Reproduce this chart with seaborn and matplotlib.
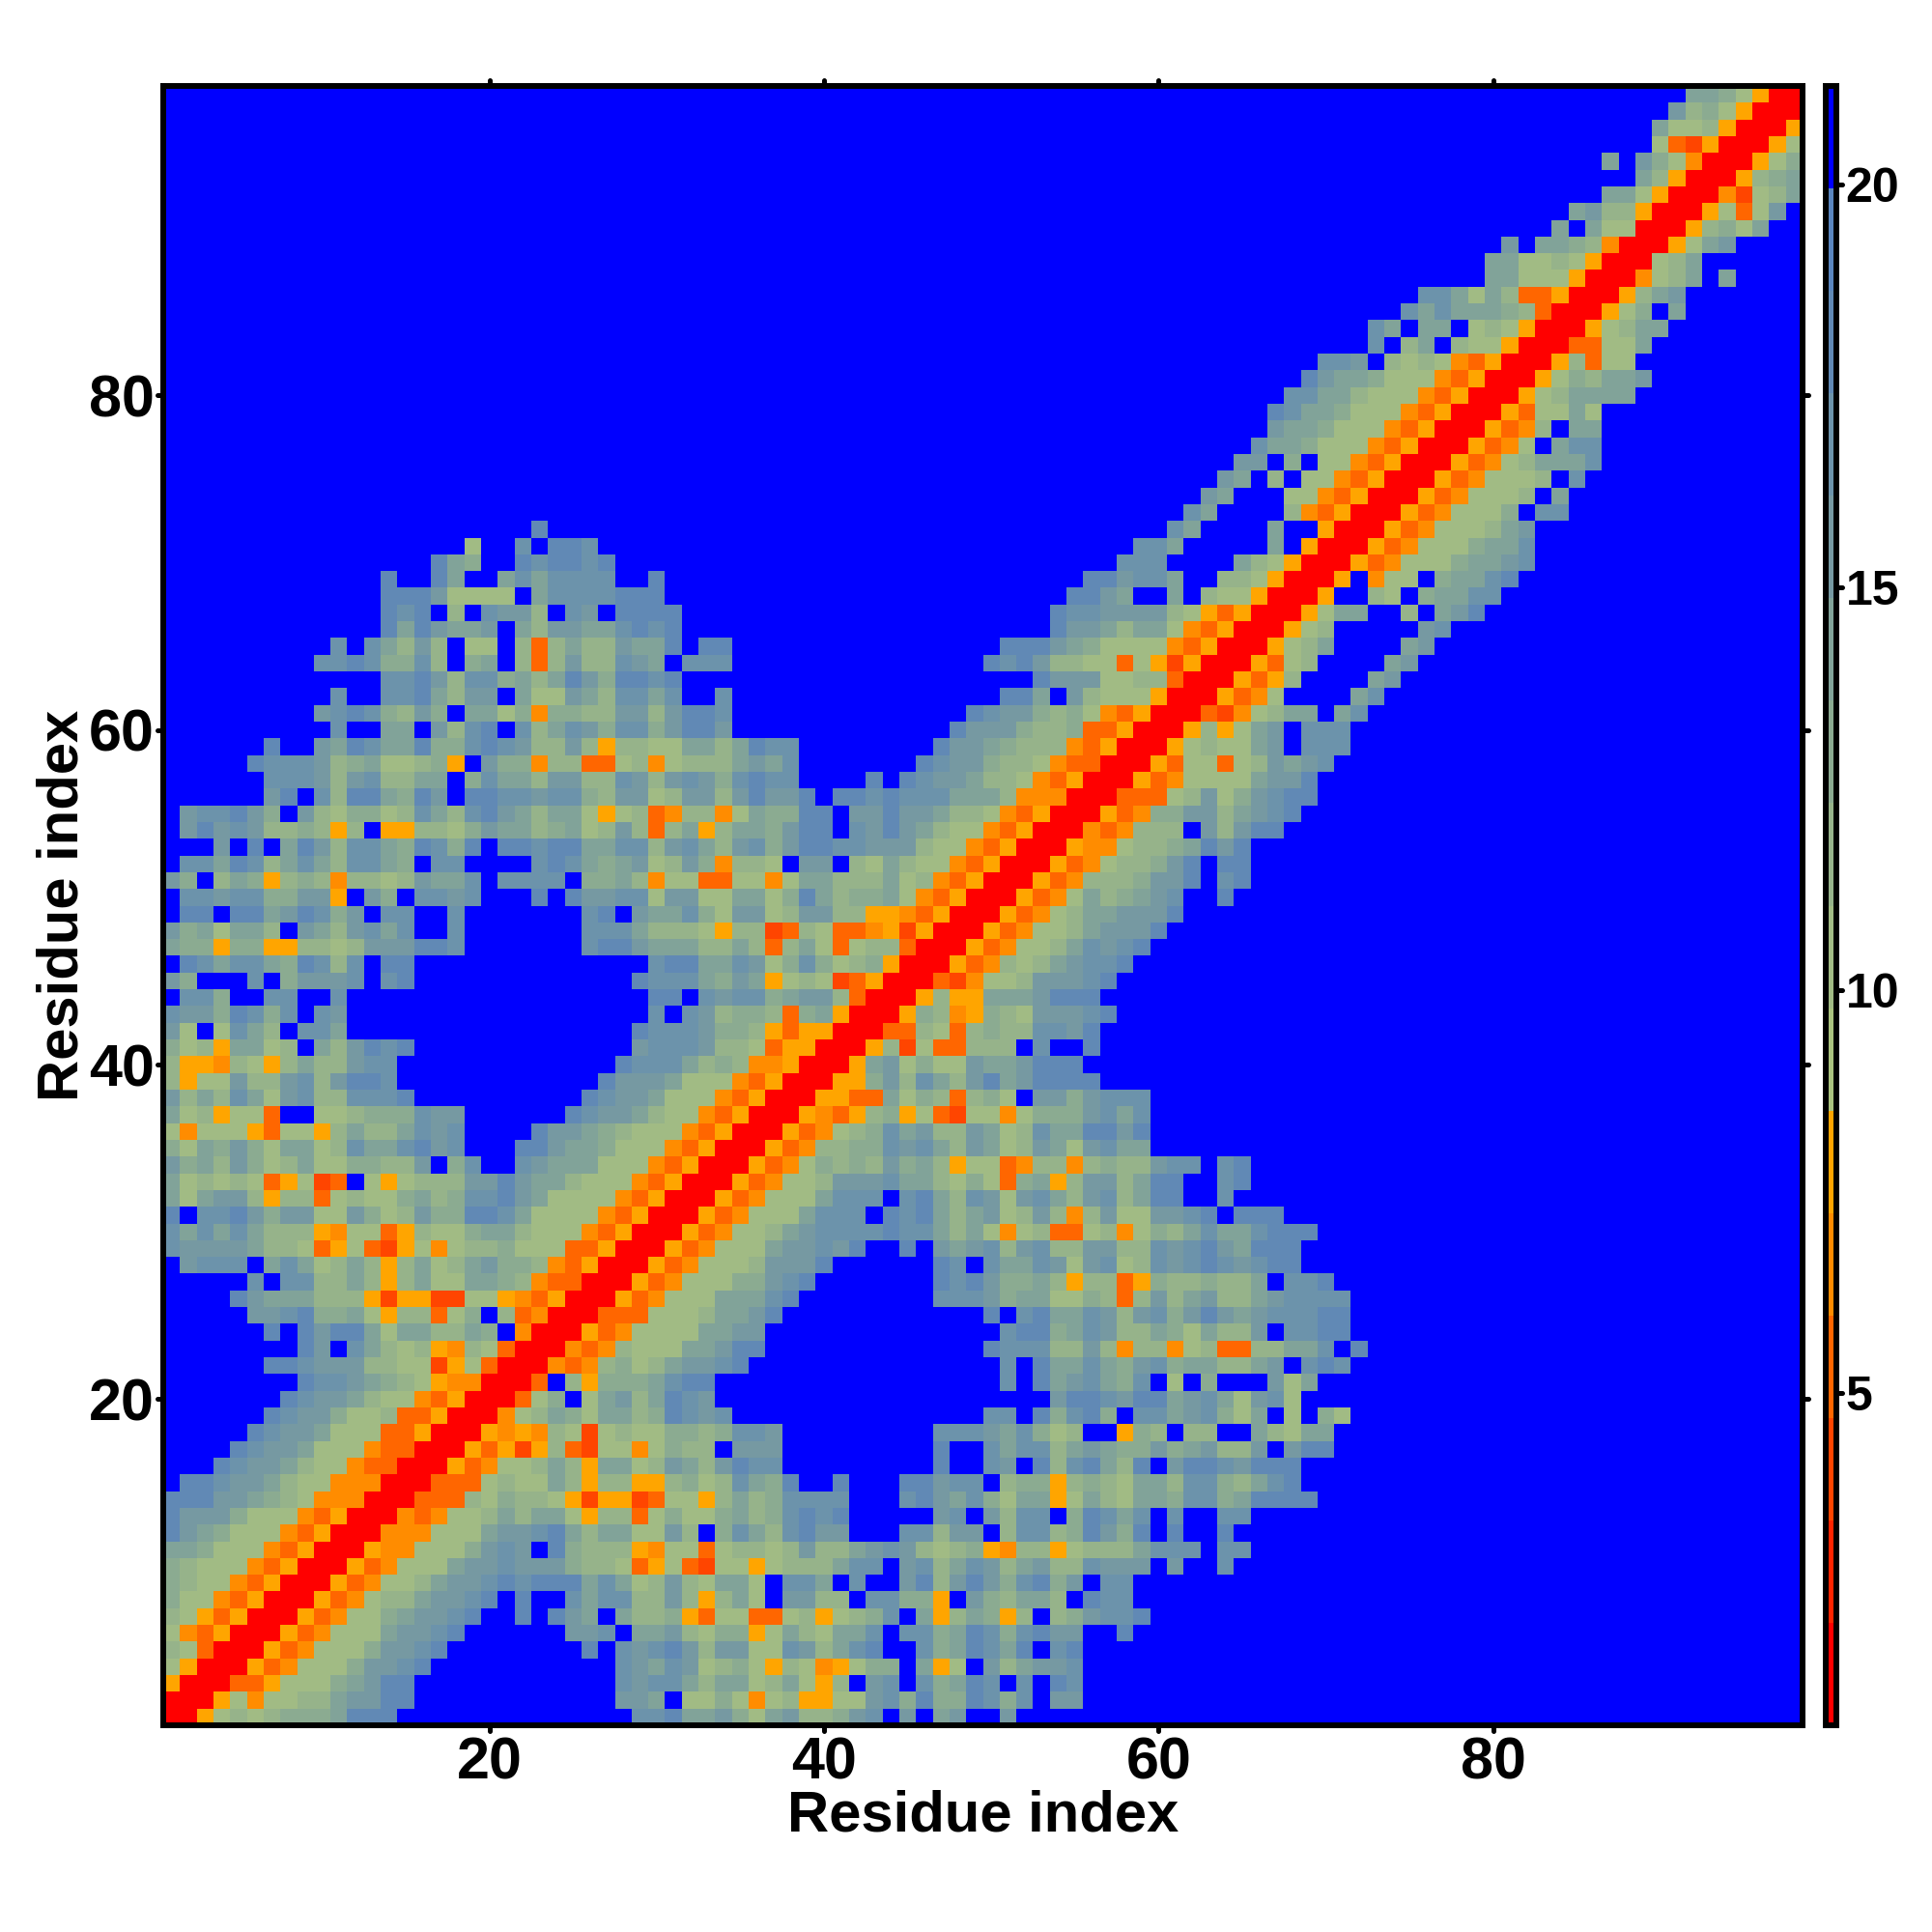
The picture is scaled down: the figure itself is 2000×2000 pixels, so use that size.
import numpy as np
import pandas as pd

# Visualization
import matplotlib.pyplot as plt
from matplotlib.colors import ListedColormap
from matplotlib.markers import MarkerStyle
import seaborn as sns

# Distance bands of the colour key, one hex digit per cell: 0 is the shortest, F the longest.
# Rows run from residue 1 upwards, each from residue 1 to the diagonal.
# Missing leading cells are F. The map is symmetric, so the other half is mirrored.
rows = [
    "0", "00", "500", "7500", "87300", "743500", "8753500", "97743500", "987743500", "9877743500",
    "AA97774350 0",
    "DBA9777435 00",
    "DBBB977743 500",
    "DDDBBA9874 4400",
    "FDDCBBA877 44400",
    "FFFDCBBA87 743300",
    "FFFFDCBBA7 7743300",
    "FFFFFDCBBA 77733500",
    "FFFFFFDCBB 977833500",
    "FFFFFFFDCB BA87743500",
    "FFFFFFFFDC CBA9875440 0",
    "FFFFFFDDCB BB88772573 00",
    "FFFFFFFFDB FCA8785487 300",
    "FFFFFFDFDB DDA7AA88A9 F400",
    "FFFFFBBCD9 9A7588379F 83400",
    "FFFFDBAAA8 8852552277 543500",
    "FFFFFCFCC8 8A858A77AA 9843300",
    "FBCCCFACA7 8A858A78AB 99843500",
    "CBBBBA8873 5732574788 977733500",
    "CACACA8885 477358779A A877743500",
    "DFCCDB9BB7 7B978B99DD CA77774350 0",
    "A7ABB85883 78779A89CC DBA7777435 00",
    "A787873572 3F757888BB DBAA877743 500",
    "B9A8B978A7 79988BF9CF FCBAAA7774 3500",
    "97A9B97AA7 8CAACDBCFF FDDBAA9777 43500",
    "7477753775 8A88ACBCFF FFDBBA9877 743500",
    "A785773FF7 78999CBBFF FFFFDCBBA8 7743500",
    "B8A8CA7BC8 8CCCDFFFFF FFFFFDCBBA 77743500",
    "8577B88BC8 BDDCFFFFFF FFFFFFDBBB A77743500",
    "85548758A8 8BCCFFFFFF FFFFFFFDCC CA89844500",
    "9785AA78FA 8BDCDFFFFF FFFFFFFFBC CCB8873550 0",
    "B7F7CA8FCC AFFFFFFFFF FFFFFFFFDC CCB9985355 00",
    "CBB9DC9CFC BFFFFFFFFF FFFFFFFFFC FCB899839A 500",
    "FCC9FFCCFF CFFFFFFFFF FFFFFFFFFD DFCBCC9ABB 8300",
    "B9FFFCF9BB BCFCDFFFFF FFFFFFFFDC CCA9BA5787 23500",
    "FDCACCA9DC 8CFDDFFFFF FFFFFFFFFC DDAACB79C9 789500",
    "A995995588 78BBBDDCFF FFFFFCDDBA AA88A838A7 3788300",
    "B9A7AA8FBA 8BCACFFCFF FFFFFCCCA8 8875882387 33452500",
    "FDDFDDABDC 9BFCCFFCFF FFFFFCDFBA AC97BB78BB 885543500",
    "FCCBCC99BB 5FB9FCCBCF FFDFDBBCC7 BB77AA79DA 899A743500",
    "B9F8A95898 48878BAACF CCCCF99A84 77337747AA 888A784350 0",
    "FCCADC8ACA 8CCA9FCCFF FFCDCA9AB7 8B94887FBB F87A877435 00",
    "FFFBFDFADB 8CCA9DC9DF DDCDDAACC8 BCA8BC9BDD CCBBB87743 500",
    "FBDBCB8898 58F558879B AA89A78B83 8A58AA9BDD FCBDBA8774 3500",
    "FBCCDB9FB8 79978CA8CD BA8AA75783 48847A99DD FBBDBBA887 43500",
    "FFFFFFBDFC 8DDA9DBFDD CCBCC98BB7 8BB8BDBBDF DDCDCCCAAA 844400",
    "FFFFFFCCCB 8BC88AAF9C AA8BB88CB8 BCB9CDCCFF FFDFDCBBA8 8743500",
    "FFFFFDCCCB 89A77895FB 9948833784 7888ABACFF FFFFFDCBB9 88743300",
    "FFFFFFDFFB ADCAAD99CD CB88B85887 7AA8ADCCFF FFFFFFDBBA 988843500",
    "FFFFFFFFFF CFFAAFB8CD FC8ACB9CC9 BDDBFFFFFF FFFFFFFDBB B988933500",
    "FFFFFFFFFB CDC98B9FAA 7949988BB8 BDDCFFFFFF FFFFFFFFDC BB98974350 0",
    "FFFFFFFFFF CFFCCDA8BB FA77BA8CCA CFFCFFFFFF FFFFFFFFFF DDAFB87775 00",
    "FFFFFFFFFF FFFCCDB8CC 9A8ADB9DDC DFFFFFFFFF FFFFFFFFFF FFDBBB7788 300",
    "FFFFFFFFFC CDC99C8F9A F838B88CBA FCCCFFFFFF FFFFFFFFFD CDB8877375 2500",
    "FFFFFFFFFF CFCA8B8F77 F838A88BAA DFDDFFFFFF FFFFFFFFFF DDDBA97777 43500",
    "FFFFFFFFFF FFFDADBAAB FA8BBAACDC DFFFFFFFFF FFFFFFFFFF FFFDBBA8AA 743500",
    "FFFFFFFFFF FFFDCDF8FC BB8FCBFDDD DFFFFFFFFF FFFFFFFFFF FFFDCCBBBB 8753500",
    "FFFFFFFFFF FFFDDDB777 7FACCCCDDD FFFFFFFFFF FFFFFFFFFF FFFFDDBAFF AF877500",
    "FFFFFFFFFF FFFDFFDAFF ACACCCCFFD FFFFFFFFFF FFFFFFFFFF FFFFFDDBCC AFF887500",
    "FFFFFFFFFF FFFFFFDA9F FDCDDCDFFF FFFFFFFFFF FFFFFFFFFF FFFFFFFCCC FFFFA87500",
    "FFFFFFFFFF FFFFFFFF7F FCFDDCFFFF FFFFFFFFFF FFFFFFFFFF FFFFFFFFCC AFFFFFAF50 0",
    "FFFFFFFFFF FFFFFFFFFF FFDFFFFFFF FFFFFFFFFF FFFFFFFFFF FFFFFFFFFF CAFFFFAFF5 00",
    "FCAFFFF843 500",
    "FFBAFFF774 3500",
    "FFFBAF8F77 43500",
    "FFFFBBF9F7 743500",
    "FFFFFCAA97 7743500",
    "FFFFFFBAA9 77743500",
    "FFFFFFDCAA 977743500",
    "FFFFFFFCCA A877743500",
    "FFFFFFFFDB AA97774350 0",
    "FFFFFFFFFC CBF8787435 00",
    "FFCF8AF877 500",
    "FFCAFAAF78 7500",
    "FFFFCACAAA 98300",
    "FFFFFCCA7A 833500",
    "FFFFFFFFFA A777500",
    "FFFFFFFFFA A7787500",
    "BFAA98400",
    "FFFAFA7700",
    "FFFFAB8850 0",
    "FFFFFFAA75 00",
    "FFFFFFFFA8 500",
    "FFFFFFAFB9 7400",
    "FFFFFFFFF7 32500",
    "FFFFFFFFFA 778500",
    "B897500",
    "FAA97500",
]

x_ticks = [20, 40, 60, 80]
y_ticks = [20, 40, 60, 80]
cbar_ticks = [5, 10, 15, 20]
axis_label = "Residue index"

# Key limits
key_min = 0.87
key_max = 21.22

warm_colors = ["#FF0000", "#FF2400", "#FF4500", "#FF6600", "#FF8C00", "#FFA500"]
cool_colors = ["#A9C27E", "#A1BB84", "#96B38A", "#8BAB91", "#81A399", "#7699A2", "#6C93AB", "#6189B5", "#5A85BE"]
far_color = "#0000FF"

sns.set_theme(style="white")
plt.rcParams["font.family"] = ["Liberation Sans", "DejaVu Sans"]
plt.rcParams["font.weight"] = "bold"


def round_ticks(axis):
    # The ticks of the reference end in small round caps
    for line in axis.get_ticklines():
        line.set_marker(MarkerStyle(line.get_marker(), capstyle="round"))


# Build the symmetric distance matrix from the key bands
n = len(rows)
step = (key_max - key_min) / 16
dist = np.zeros((n, n))
for i, row in enumerate(rows):
    codes = row.replace(" ", "").rjust(i + 1, "F")[-(i + 1):]
    for j, c in enumerate(codes):
        dist[i, j] = key_min + (int(c, 16) + 0.5) * step
        dist[j, i] = dist[i, j]

residues = np.arange(1, n + 1)
table = pd.DataFrame(dist, index=residues, columns=residues)

fig = plt.figure(figsize=(20, 20), dpi=100)
ax = fig.add_axes([169 / 2000, 1 - 1786 / 2000, 1697 / 2000, 1697 / 2000])
cax = fig.add_axes([1890 / 2000, 1 - 1786 / 2000, 11 / 2000, 1697 / 2000])

cmap = ListedColormap(warm_colors + cool_colors + [far_color])
sns.heatmap(table, ax=ax, cbar_ax=cax, cmap=cmap, vmin=key_min, vmax=key_max,
            square=False, xticklabels=False, yticklabels=False, linewidths=0)
ax.invert_yaxis()

ax.set_xticks([t - 0.5 for t in x_ticks])
ax.set_xticklabels(x_ticks)
ax.set_yticks([t - 0.5 for t in y_ticks])
ax.set_yticklabels(y_ticks, rotation=0)
ax.tick_params(axis="both", which="major", direction="out", length=4.5, width=3.6, color="black",
               labelcolor="black", labelsize=44, pad=4, top=True, right=True, bottom=True, left=True,
               labeltop=False, labelright=False)
ax.tick_params(axis="y", pad=2)
round_ticks(ax.xaxis)
round_ticks(ax.yaxis)

for side in ax.spines:
    ax.spines[side].set_visible(True)
    ax.spines[side].set_linewidth(4.3)
    ax.spines[side].set_color("black")

ax.set_xlabel(axis_label, fontsize=43, fontweight="bold", color="black", labelpad=-1.5)
ax.set_ylabel(axis_label, fontsize=43, fontweight="bold", color="black", labelpad=0)

cbar = ax.collections[0].colorbar
cbar.set_ticks(cbar_ticks)
cbar.ax.tick_params(axis="y", direction="out", length=4.5, width=3.6, color="black",
                    labelcolor="black", labelsize=36, pad=2.5, right=True, left=False)
round_ticks(cbar.ax.yaxis)
cbar.outline.set_visible(True)
cbar.outline.set_linewidth(4.3)
cbar.outline.set_edgecolor("black")

fig.savefig("out.png", dpi=100, facecolor="white")
